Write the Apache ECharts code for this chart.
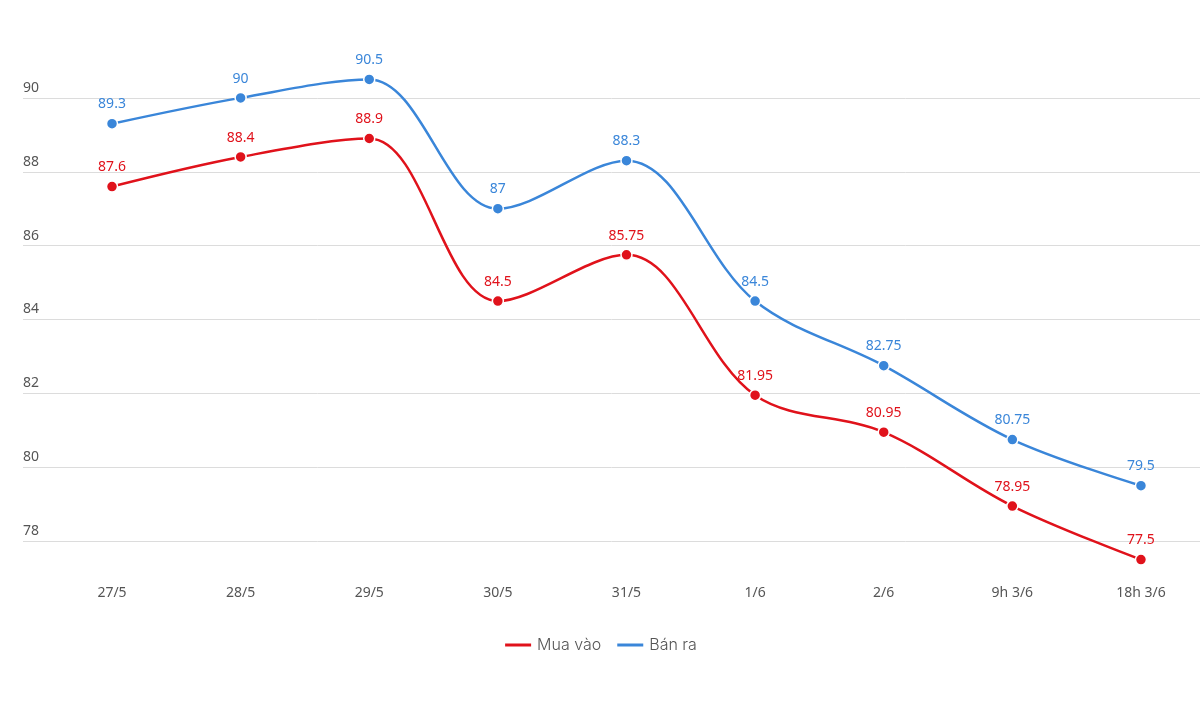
<!DOCTYPE html>
<html>
<head>
<meta charset="utf-8">
<script src="https://cdn.jsdelivr.net/npm/echarts@6/dist/echarts.min.js"></script>
<style>html,body{margin:0;padding:0;background:#fff}#c{width:1200px;height:710px}</style>
</head>
<body>
<div id="c"></div>
<script>
const categories = ['27/5','28/5','29/5','30/5','31/5','1/6','2/6','9h 3/6','18h 3/6'];
const muaVao = [87.6, 88.4, 88.9, 84.5, 85.75, 81.95, 80.95, 78.95, 77.5];
const banRa = [89.3, 90, 90.5, 87, 88.3, 84.5, 82.75, 80.75, 79.5];
const yTicks = [78, 80, 82, 84, 86, 88, 90];

const RED = '#e0121b';
const BLUE = '#3a86d9';
const toPairs = arr => arr.map((v, i) => [i, v]);

const chart = echarts.init(document.getElementById('c'), null, {renderer: 'canvas'});
const labelFont = "'Noto Sans', 'Open Sans', sans-serif";

function makeSeries(name, data, color) {
  return {
    name: name,
    type: 'line',
    data: toPairs(data),
    smooth: 0.35,
    symbol: 'circle',
    symbolSize: 11,
    lineStyle: {color: color, width: 2.5},
    itemStyle: {color: color, borderColor: '#fff', borderWidth: 1.5},
    label: {
      show: true, position: 'top', distance: 6, color: color,
      fontSize: 14, fontFamily: labelFont,
      formatter: p => String(p.value[1])
    },
    emphasis: {disabled: true}
  };
}

chart.setOption({
  animation: false,
  backgroundColor: '#fff',
  grid: {left: 23, right: 0, top: 24, bottom: 95, containLabel: false},
  xAxis: {
    type: 'value',
    min: -0.692, max: 8.459,
    axisLine: {show: false}, axisTick: {show: false}, splitLine: {show: false},
    axisLabel: {
      customValues: categories.map((c, i) => i),
      formatter: v => categories[Math.round(v)],
      margin: -29, color: '#555', fontSize: 14, fontFamily: labelFont
    }
  },
  yAxis: {
    type: 'value', min: 76, max: 92, interval: 2,
    axisLine: {show: false}, axisTick: {show: false},
    splitLine: {show: true, lineStyle: {color: ['transparent', '#dcdcdc', '#dcdcdc', '#dcdcdc', '#dcdcdc', '#dcdcdc', '#dcdcdc', '#dcdcdc', 'transparent'], width: 1}},
    axisLabel: {
      inside: true, margin: 0, align: 'left', verticalAlign: 'bottom',
      padding: [0, 0, 3, 0],
      color: '#555', fontSize: 14, fontFamily: labelFont,
      formatter: v => yTicks.includes(v) ? String(v) : ''
    }
  },
  legend: {
    bottom: 52, left: 'center',
    icon: 'rect', itemWidth: 28, itemHeight: 5, itemGap: 14,
    textStyle: {color: '#555', fontSize: 16, fontFamily: "'Inter', 'Lato', sans-serif", fontWeight: 300},
    data: ['Mua vào', 'Bán ra']
  },
  series: [makeSeries('Mua vào', muaVao, RED), makeSeries('Bán ra', banRa, BLUE)]
});
</script>
</body>
</html>
